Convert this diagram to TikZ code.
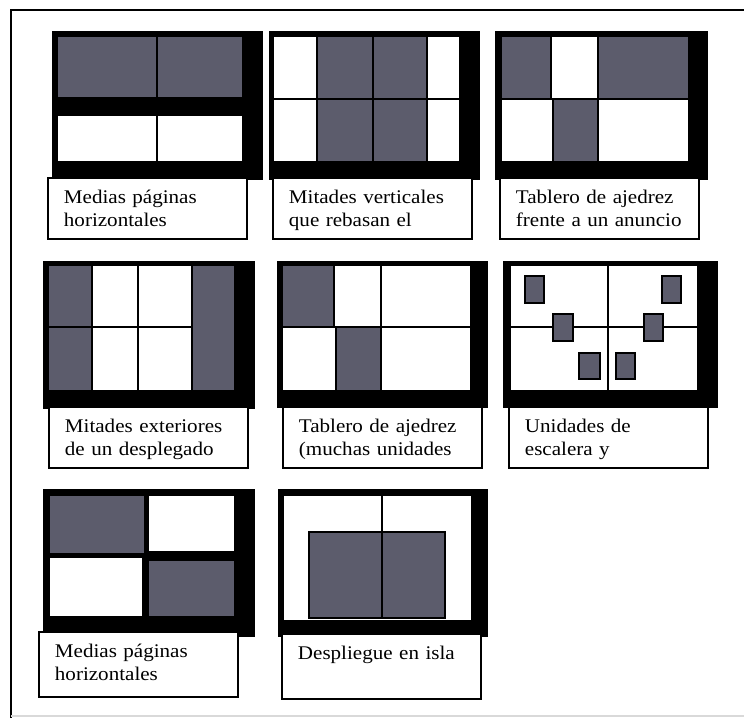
\documentclass[tikz,border=0pt]{standalone}
\usepackage{fontspec}
\newfontfamily\capfont[FakeStretch=1.09]{Liberation Serif}
\definecolor{padgrey}{RGB}{92,92,108}
\begin{document}
\begin{tikzpicture}[
  x=0.75pt, y=-0.75pt,
  sheet/.style={fill=black},
  greycell/.style={fill=padgrey, draw=black, line width=1.3pt},
  whitecell/.style={fill=white, draw=black, line width=1.3pt},
  unitbox/.style={fill=padgrey, draw=black, line width=1.6pt},
  capbox/.style={rectangle, draw=black, line width=1.4pt, fill=white, anchor=north west,
                 inner xsep=12pt, inner ysep=9.5pt, text width=125.25pt,
                 text height=10pt, text depth=16.75pt, align=left,
                 font=\capfont\fontsize{14.5}{17.25}\selectfont},
  tallcap/.style={capbox, text depth=19.75pt}
]
\useasboundingbox (0,0) rectangle (744,718);
\clip (0,0) rectangle (744,718);
\draw[line width=1.5pt] (11,760) -- (11,10) -- (760,10);
\draw[black!15, line width=1pt] (11,716) -- (760,716);

\fill[sheet] (52,31) rectangle (263,180);
\draw[greycell] (57,36) rectangle (157,98);
\draw[greycell] (157,36) rectangle (243,98);
\draw[whitecell] (57,115) rectangle (157,162);
\draw[whitecell] (157,115) rectangle (243,162);
\node[capbox] (c1) at (47,177) {Medias páginas\\horizontales};

\fill[sheet] (269,31) rectangle (480,180);
\draw[whitecell] (273,36) rectangle (317,99);
\draw[greycell] (317,36) rectangle (373,99);
\draw[greycell] (373,36) rectangle (427,99);
\draw[whitecell] (427,36) rectangle (460,99);
\draw[whitecell] (273,99) rectangle (317,162);
\draw[greycell] (317,99) rectangle (373,162);
\draw[greycell] (373,99) rectangle (427,162);
\draw[whitecell] (427,99) rectangle (460,162);
\node[capbox] (c2) at (272,177) {Mitades verticales\\que rebasan el};

\fill[sheet] (495,31) rectangle (708,180);
\draw[greycell] (501,36) rectangle (551,99);
\draw[whitecell] (551,36) rectangle (598,99);
\draw[greycell] (598,36) rectangle (689,99);
\draw[whitecell] (501,99) rectangle (553,162);
\draw[greycell] (553,99) rectangle (598,162);
\draw[whitecell] (598,99) rectangle (689,162);
\node[capbox] (c3) at (499,177) {Tablero de ajedrez\\frente a un anuncio};

\fill[sheet] (43,261) rectangle (255,409);
\draw[greycell] (48,265) rectangle (92,327);
\draw[greycell] (48,327) rectangle (92,391);
\draw[whitecell] (92,265) rectangle (138,327);
\draw[whitecell] (138,265) rectangle (192,327);
\draw[whitecell] (92,327) rectangle (138,391);
\draw[whitecell] (138,327) rectangle (192,391);
\draw[greycell] (192,265) rectangle (235,391);
\node[capbox] (c4) at (48,406) {Mitades exteriores\\de un desplegado};

\fill[sheet] (277,261) rectangle (488,408);
\draw[greycell] (282,265) rectangle (334,327);
\draw[whitecell] (334,265) rectangle (381,327);
\draw[whitecell] (381,265) rectangle (471,327);
\draw[whitecell] (282,327) rectangle (336,391);
\draw[greycell] (336,327) rectangle (381,391);
\draw[whitecell] (381,327) rectangle (471,391);
\node[capbox] (c5) at (282,406) {Tablero de ajedrez\\(muchas unidades};

\fill[sheet] (503,261) rectangle (718,408);
\draw[whitecell] (510,265) rectangle (608,327);
\draw[whitecell] (608,265) rectangle (698,327);
\draw[whitecell] (510,327) rectangle (608,391);
\draw[whitecell] (608,327) rectangle (698,391);
\draw[unitbox] (525,276) rectangle (544,303);
\draw[unitbox] (553,314) rectangle (573,341);
\draw[unitbox] (579,353) rectangle (600,379);
\draw[unitbox] (616,353) rectangle (635,379);
\draw[unitbox] (644,314) rectangle (663,341);
\draw[unitbox] (662,276) rectangle (681,303);
\node[capbox] (c6) at (508,406) {Unidades de\\escalera y};

\fill[sheet] (43,489) rectangle (255,637);
\draw[greycell] (49,495) rectangle (145,554);
\draw[whitecell] (148,495) rectangle (235,552);
\draw[whitecell] (49,557) rectangle (143,617);
\draw[greycell] (148,560) rectangle (235,617);
\node[tallcap] (c7) at (38,631) {Medias páginas\\horizontales};

\fill[sheet] (278,489) rectangle (488,637);
\draw[whitecell] (283,495) rectangle (472,621);
\draw[line width=1.3pt] (382,495) -- (382,532);
\draw[unitbox] (309,532) rectangle (382,618);
\draw[unitbox] (382,532) rectangle (445,618);
\node[tallcap] (c8) at (281,633) {Despliegue en isla};
\end{tikzpicture}
\end{document}
